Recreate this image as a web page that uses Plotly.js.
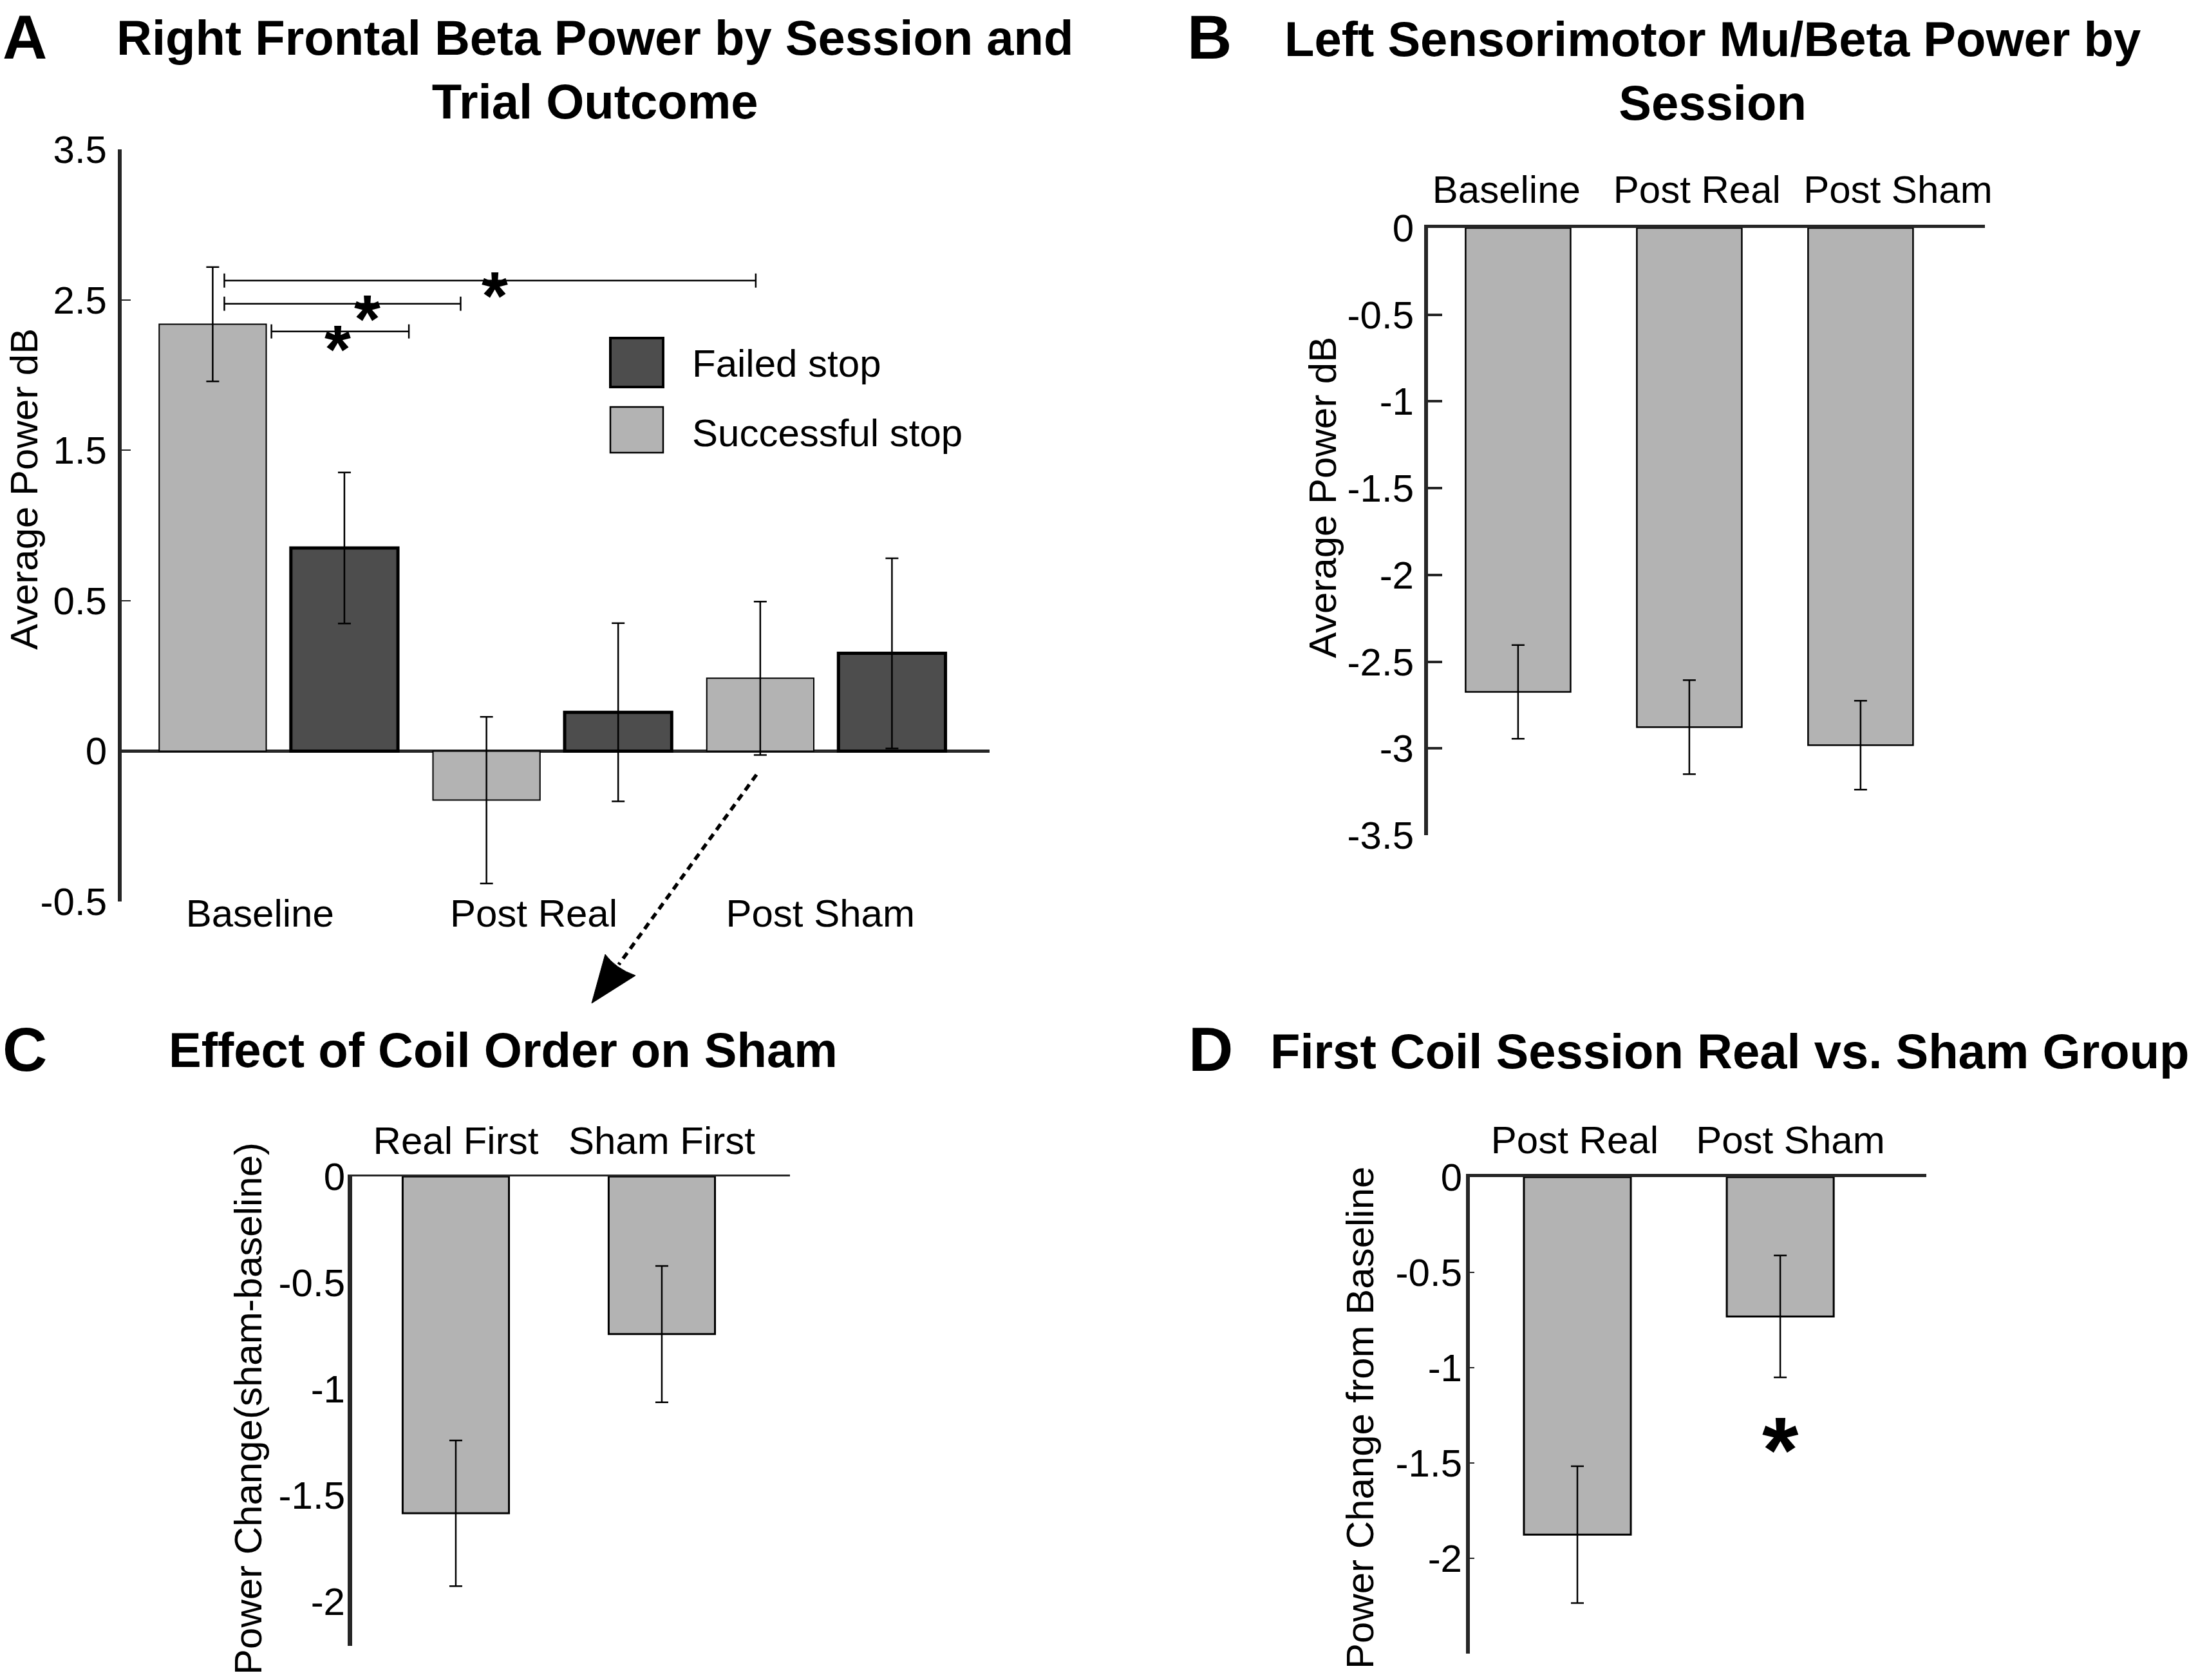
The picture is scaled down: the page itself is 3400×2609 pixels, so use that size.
<!DOCTYPE html>
<html>
<head>
<meta charset="utf-8">
<script src="https://cdn.plot.ly/plotly-3.0.1.min.js"></script>
<style>html,body{margin:0;padding:0;background:#fff;}</style>
</head>
<body>
<div id="chart" style="width:3400px;height:2609px;"></div>
<script>
// ---------------- DATA ----------------
// Panel A: Right frontal beta power by session and trial outcome
const sessionsA = ["Baseline", "Post Real", "Post Sham"];
const successA = [1.419, -0.163, 0.242];
const successErrA = [0.19, 0.277, 0.255];
const failedA = [0.675, 0.129, 0.325];
const failedErrA = [0.251, 0.296, 0.316];
const yTickValsA = [-0.5, 0, 0.5, 1, 1.5, 2];
const yTickTextA = ["-0.5", "0", "0.5", "1.5", "2.5", "3.5"];
const legendA = ["Failed stop", "Successful stop"];
// significance brackets (panel A)
const sigStartA = [-0.198, -0.198, -0.026];
const sigEndA = [1.743, 0.665, 0.476];
const sigYA = [1.564, 1.487, 1.395];
const starXA = [0.790, 0.325, 0.217];
const starYA = [1.558, 1.481, 1.380];

// Panel B: Left sensorimotor mu/beta power by session
const sessionsB = ["Baseline", "Post Real", "Post Sham"];
const powerB = [-2.674, -2.877, -2.981];
const errB = [0.270, 0.271, 0.256];
const yTickTextB = ["-3.5", "-3", "-2.5", "-2", "-1.5", "-1", "-0.5", "0"];

// Panel C: Effect of coil order on sham
const orderC = ["Real First", "Sham First"];
const changeC = [-1.585, -0.742];
const errC = [0.343, 0.321];
const yTickTextC = ["-2", "-1.5", "-1", "-0.5", "0"];

// Panel D: First coil session real vs sham group
const groupD = ["Post Real", "Post Sham"];
const changeD = [-1.876, -0.731];
const errD = [0.359, 0.320];
const yTickValsD = [-2.5, -2, -1.5, -1, -0.5, 0];
const yTickTextD = ["", "-2", "-1.5", "-1", "-0.5", "0"];
const starXD = [1];
const starYD = [-1.365];

// ---------------- LAYOUT HELPERS ----------------
const W = 3400, H = 2609;
const px = v => v / W;
const py = v => 1 - v / H;
const FONT = "Liberation Sans, Arial, Helvetica, sans-serif";
const AX = "#262626";
const LIGHT = "#b3b3b3", DARK = "#4d4d4d";
const idx = arr => arr.map((_, i) => i);

// label shifts (category label placement, in category units)
const labelShiftA = [-0.068, -0.068, -0.021];
const labelShiftB = [-0.068, 0.045, 0.218];
const labelShiftD = [-0.013, 0.05];

const errStyle = (arr) => ({type: "data", array: arr, visible: true, color: "#000", thickness: 2.5, width: 10});

const traces = [];
// Panel A bars
traces.push({
  type: "bar", x: idx(sessionsA), y: successA, name: legendA[1],
  offset: -0.436, width: 0.391,
  marker: {color: LIGHT, line: {color: "#000", width: 2}},
  error_y: errStyle(successErrA), xaxis: "x", yaxis: "y", hoverinfo: "skip"
});
traces.push({
  type: "bar", x: idx(sessionsA), y: failedA, name: legendA[0],
  offset: 0.045, width: 0.391,
  marker: {color: DARK, line: {color: "#000", width: 5}},
  error_y: errStyle(failedErrA), xaxis: "x", yaxis: "y", hoverinfo: "skip"
});
// Panel A significance brackets
sigYA.forEach((yv, i) => {
  traces.push({
    type: "scatter", mode: "lines", x: [sigStartA[i], sigEndA[i]], y: [yv, yv],
    line: {color: "#000", width: 2.5},
    error_y: {type: "constant", value: 0.0235, visible: true, color: "#000", thickness: 2.5, width: 0},
    xaxis: "x", yaxis: "y", hoverinfo: "skip"
  });
});
// Panel B
traces.push({
  type: "bar", x: idx(sessionsB), y: powerB, width: 0.613,
  marker: {color: LIGHT, line: {color: "#000", width: 2.5}},
  error_y: errStyle(errB), xaxis: "x2", yaxis: "y2", hoverinfo: "skip"
});
// Panel C
traces.push({
  type: "bar", x: idx(orderC), y: changeC, width: 0.516,
  marker: {color: LIGHT, line: {color: "#000", width: 3}},
  error_y: errStyle(errC), xaxis: "x3", yaxis: "y3", hoverinfo: "skip"
});
// Panel D
traces.push({
  type: "bar", x: idx(groupD), y: changeD, width: 0.527,
  marker: {color: LIGHT, line: {color: "#000", width: 3}},
  error_y: errStyle(errD), xaxis: "x4", yaxis: "y4", hoverinfo: "skip"
});

const tickFont = {family: FONT, size: 60, color: "#000"};
const baseX = {showgrid: false, zeroline: false, ticks: "", tickfont: tickFont, fixedrange: true};
const baseY = {showgrid: false, showline: true, linecolor: AX, tickfont: tickFont, fixedrange: true};

const layout = {
  width: W, height: H, autosize: false,
  margin: {l: 0, r: 0, t: 0, b: 0, pad: 0},
  paper_bgcolor: "#ffffff", plot_bgcolor: "rgba(0,0,0,0)",
  font: {family: FONT, size: 60, color: "#000"},
  showlegend: false, barmode: "overlay",
  xaxis: Object.assign({}, baseX, {
    domain: [px(189), px(1537)], anchor: "y", range: [-0.573, 2.597],
    tickmode: "array", tickvals: idx(sessionsA).map(i => i + labelShiftA[i]), ticktext: sessionsA,
    showline: false, side: "bottom", ticklabelstandoff: -22
  }),
  yaxis: Object.assign({}, baseY, {
    domain: [py(1400), py(232)], anchor: "x", range: [-0.5, 2.0],
    tickmode: "array", tickvals: yTickValsA, ticktext: yTickTextA,
    linewidth: 6, ticks: "inside", ticklen: 14, tickwidth: 2, tickcolor: AX,
    zeroline: true, zerolinewidth: 5, zerolinecolor: AX, ticklabelstandoff: 5
  }),
  xaxis2: Object.assign({}, baseX, {
    domain: [px(2218), px(3083)], anchor: "y2", range: [-0.526, 2.726],
    tickmode: "array", tickvals: idx(sessionsB).map(i => i + labelShiftB[i]), ticktext: sessionsB,
    side: "top", showline: true, linewidth: 5, linecolor: AX, ticklabelstandoff: 10
  }),
  yaxis2: Object.assign({}, baseY, {
    domain: [py(1297), py(354)], anchor: "x2", range: [-3.5, 0],
    tickmode: "array", tickvals: yTickTextB.map(Number), ticktext: yTickTextB,
    linewidth: 6, ticks: "inside", ticklen: 22, tickwidth: 4, tickcolor: AX,
    zeroline: false, ticklabelstandoff: 4
  }),
  xaxis3: Object.assign({}, baseX, {
    domain: [px(547), px(1227)], anchor: "y3", range: [-0.503, 1.622],
    tickmode: "array", tickvals: idx(orderC), ticktext: orderC,
    side: "top", showline: true, linewidth: 3, linecolor: AX, ticklabelstandoff: 8
  }),
  yaxis3: Object.assign({}, baseY, {
    domain: [py(2556), py(1827)], anchor: "x3", range: [-2.209, 0],
    tickmode: "array", tickvals: yTickTextC.map(Number), ticktext: yTickTextC,
    linewidth: 7, ticks: "", zeroline: false, ticklabelstandoff: -8
  }),
  xaxis4: Object.assign({}, baseX, {
    domain: [px(2283), px(2992)], anchor: "y4", range: [-0.530, 1.720],
    tickmode: "array", tickvals: idx(groupD).map(i => i + labelShiftD[i]), ticktext: groupD,
    side: "top", showline: true, linewidth: 5, linecolor: AX, ticklabelstandoff: 8
  }),
  yaxis4: Object.assign({}, baseY, {
    domain: [py(2568), py(1828)], anchor: "x4", range: [-2.5, 0],
    tickmode: "array", tickvals: yTickValsD, ticktext: yTickTextD,
    linewidth: 6, ticks: "inside", ticklen: 7, tickwidth: 2, tickcolor: AX,
    zeroline: false, ticklabelstandoff: -6
  }),
  shapes: [],
  annotations: []
};

const titleFont = {family: FONT, size: 76, color: "#000", weight: "bold"};
const letterFont = {family: FONT, size: 96, color: "#000", weight: "bold"};
const labFont = {family: FONT, size: 60, color: "#000"};
const paperAnn = (o) => Object.assign({xref: "paper", yref: "paper", showarrow: false}, o);

// Panel letters
[["A", 3, 58], ["B", 1843, 58], ["C", 3, 1629], ["D", 1845, 1629]].forEach(([t, x, y]) => {
  layout.annotations.push(paperAnn({text: t, x: px(x), y: py(y), xanchor: "left", yanchor: "middle", borderpad: 0, font: letterFont}));
});
// Titles
layout.annotations.push(paperAnn({text: "Right Frontal Beta Power by Session and<br>Trial Outcome", x: px(924), y: py(14), xanchor: "center", yanchor: "top", align: "center", font: titleFont}));
layout.annotations.push(paperAnn({text: "Left Sensorimotor Mu/Beta Power by<br>Session", x: px(2660), y: py(16), xanchor: "center", yanchor: "top", align: "center", font: titleFont}));
layout.annotations.push(paperAnn({text: "Effect of Coil Order on Sham", x: px(260), y: py(1586), xanchor: "left", yanchor: "top", font: titleFont}));
layout.annotations.push(paperAnn({text: "First Coil Session Real vs. Sham Group", x: px(1971), y: py(1588), xanchor: "left", yanchor: "top", font: titleFont}));
// Y-axis titles
[["Average Power dB", 37, 760], ["Average Power dB", 2055, 773], ["Power Change(sham-baseline)", 385, 2188], ["Power Change from Baseline", 2112, 2202]].forEach(([t, x, y]) => {
  layout.annotations.push(paperAnn({text: t, x: px(x), y: py(y), xanchor: "center", yanchor: "middle", textangle: -90, font: labFont}));
});
// Legend (panel A)
layout.shapes.push({type: "rect", xref: "paper", yref: "paper", x0: px(948), x1: px(1030), y0: py(601), y1: py(525), fillcolor: DARK, line: {color: "#000", width: 4}});
layout.shapes.push({type: "rect", xref: "paper", yref: "paper", x0: px(948), x1: px(1030), y0: py(703), y1: py(632), fillcolor: LIGHT, line: {color: "#000", width: 2.5}});
layout.annotations.push(paperAnn({text: legendA[0], x: px(1073), y: py(564), xanchor: "left", yanchor: "middle", font: labFont}));
layout.annotations.push(paperAnn({text: legendA[1], x: px(1073), y: py(673), xanchor: "left", yanchor: "middle", font: labFont}));
// Significance stars
starXA.forEach((x, i) => {
  layout.annotations.push({xref: "x", yref: "y", x: x, y: starYA[i], text: "*", showarrow: false, xanchor: "center", yanchor: "middle", yshift: -21, font: {family: FONT, size: 105, color: "#000", weight: "bold"}});
});
starXD.forEach((x, i) => {
  layout.annotations.push({xref: "x4", yref: "y4", x: x, y: starYD[i], text: "*", showarrow: false, xanchor: "center", yanchor: "middle", yshift: -20, font: {family: FONT, size: 145, color: "#000", weight: "bold"}});
});
// Dotted arrow from panel A to panel C
layout.shapes.push({type: "line", xref: "paper", yref: "paper", x0: px(1175), y0: py(1203), x1: px(961), y1: py(1498), line: {color: "#000", width: 5.5, dash: "11px,8px"}});
layout.shapes.push({type: "path", xref: "paper", yref: "paper",
  path: `M ${px(919)} ${py(1558)} L ${px(940)} ${py(1482)} Q ${px(956)} ${py(1504)} ${px(987)} ${py(1515)} Z`,
  fillcolor: "#000", line: {color: "#000", width: 1}});

Plotly.newPlot("chart", traces, layout, {staticPlot: true, displayModeBar: false});
</script>
</body>
</html>
